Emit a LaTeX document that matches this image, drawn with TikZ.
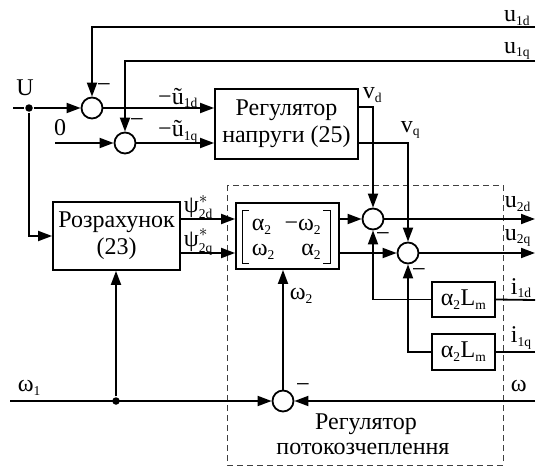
\documentclass[tikz,border=0pt]{standalone}
\usepackage{fontspec}
\setmainfont{Liberation Serif}
\usepackage{amsmath}
\usetikzlibrary{arrows.meta}
\newcommand\lsub[1]{\textsubscript{\fontsize{13.5}{13.5}\selectfont #1}}
\begin{document}
\begin{tikzpicture}[x=1pt,y=-1pt,line width=1.8pt,
  >={Triangle[length=14pt,width=10pt]},
  font=\fontsize{24}{27}\selectfont,
  blk/.style={draw,rectangle,inner sep=0pt,align=center},
  sumc/.style={draw,circle,minimum size=21pt,inner sep=0pt},
  lbl/.style={inner sep=0pt},
  dotc/.style={circle,fill,inner sep=0pt,minimum size=7.5pt},
  minus/.style={inner sep=0pt,font=\fontsize{25}{25}\selectfont}]
\useasboundingbox (0,0) rectangle (537,468);
% dashed region
\draw[line width=1pt,dash pattern=on 6pt off 4pt,black!75] (227,185) rectangle (503,465);
% blocks
\node[blk,minimum width=143pt,minimum height=70pt] (reg) at (286.5,124) {Регулятор\\напруги (25)};
\node[blk,minimum width=127pt,minimum height=68pt] (calc) at (116.5,236) {Розрахунок\\(23)};
\node[blk,minimum width=103pt,minimum height=66pt] (mat) at (287.5,236) {};
\node[blk,minimum width=63pt,minimum height=35pt] (lm1) at (463.5,299.5) {α\lsub{2}L\lsub{m}};
\node[blk,minimum width=63pt,minimum height=36pt] (lm2) at (463.5,352) {α\lsub{2}L\lsub{m}};
% matrix contents
\node[lbl,anchor=west] (m11) at (251,227) {α\lsub{2}};
\node[lbl,anchor=east] (m12) at (322,227) {−ω\lsub{2}};
\node[lbl,anchor=west] (m21) at (251,252) {ω\lsub{2}};
\node[lbl,anchor=east] (m22) at (322,252) {α\lsub{2}};
\draw[line width=0.9pt] (249,210) -- (242,210) -- (242,263) -- (249,263);
\draw[line width=0.9pt] (323,210) -- (330,210) -- (330,263) -- (323,263);
% sums
\node[sumc] (c1) at (92,108) {};
\node[sumc] (c2) at (125,143) {};
\node[sumc] (c3) at (373,219) {};
\node[sumc] (c4) at (408,253) {};
\node[sumc] (c5) at (283,401) {};
% dots
\node[dotc] (d1) at (29,108) {};
\node[dotc] (d2) at (116,401) {};
% coordinates
\coordinate (uin) at (13,108);
\coordinate (zin) at (55,143);
\coordinate (u1dR) at (535,27);
\coordinate (u1qR) at (535,61);
\coordinate (u2dR) at (535,219);
\coordinate (u2qR) at (535,253);
\coordinate (i1dR) at (535,300);
\coordinate (i1qR) at (535,352);
\coordinate (omR) at (535,401);
\coordinate (om1L) at (10,401);
% connectors
\draw (uin) -- (d1);
\draw[->] (d1) -- (c1);
\draw[->] (d1) |- (calc.west);
\draw[->] (zin) -- (c2);
\draw[->] (u1dR) -| (c1.north);
\draw[->] (u1qR) -| (c2.north);
\draw[->] (c1.east) -- (reg.west |- c1.east);
\draw[->] (c2.east) -- (reg.west |- c2.east);
\draw[->] (reg.east |- 0,107) -| (c3.north);
\draw[->] (reg.east |- c2.east) -| (c4.north);
\draw[->] (calc.east |- c3.west) -- (mat.west |- c3.west);
\draw[->] (calc.east |- c4.west) -- (mat.west |- c4.west);
\draw[->] (mat.east |- c3.west) -- (c3.west);
\draw[->] (mat.east |- c4.west) -- (c4.west);
\draw[->] (c3.east) -- (u2dR);
\draw[->] (c4.east) -- (u2qR);
\draw (i1dR) -- (lm1.east);
\draw (i1qR) -- (lm2.east);
\draw[->] (lm1.west) -| (c3.south);
\draw[->] (lm2.west) -| (c4.south);
\draw[->] (omR) -- (c5.east);
\draw[->] (om1L) -- (c5.west);
\draw[->] (d2) -- (calc.south -| d2);
\draw[->] (c5.north) -- (mat.south -| c5.north);
% labels
\node[lbl] (lU) at (25,88) {U};
\node[lbl] (l0) at (60,128) {0};
\node[lbl] (lu1d) at (178,98) {−ũ\lsub{1d}};
\node[lbl] (lu1q) at (178,132) {−ũ\lsub{1q}};
\node[lbl,anchor=west] (lvd) at (362,95) {v\lsub{d}};
\node[lbl,anchor=west] (lvq) at (400,130) {v\lsub{q}};
\node[lbl,anchor=east] (lU1d) at (531,18) {u\lsub{1d}};
\node[lbl,anchor=east] (lU1q) at (531,51) {u\lsub{1q}};
\node[lbl,anchor=west] (lpsd) at (183,207) {$\text{ψ}^{*}_{\text{\fontsize{13.5}{13.5}\selectfont 2d}}$};
\node[lbl,anchor=west] (lpsq) at (183,242) {$\text{ψ}^{*}_{\text{\fontsize{13.5}{13.5}\selectfont 2q}}$};
\node[lbl,anchor=west] (lu2d) at (504,204) {u\lsub{2d}};
\node[lbl,anchor=west] (lu2q) at (504,238) {u\lsub{2q}};
\node[lbl,anchor=west] (li1d) at (510,288) {i\lsub{1d}};
\node[lbl,anchor=west] (li1q) at (510,338) {i\lsub{1q}};
\node[lbl,anchor=west] (lom) at (510,386) {ω};
\node[lbl,anchor=west] (lom1) at (17,388) {ω\lsub{1}};
\node[lbl,anchor=west] (lom2) at (289,296) {ω\lsub{2}};
\node[lbl] (t1) at (366,424) {Регулятор};
\node[lbl] (t2) at (363,449) {потокозчеплення};
% minus signs
\node[minus] (mn1) at (104,88) {−};
\node[minus] (mn2) at (137,123) {−};
\node[minus] (mn3) at (383,237) {−};
\node[minus] (mn4) at (419,273) {−};
\node[minus] (mn5) at (303,388) {−};
\end{tikzpicture}
\end{document}
